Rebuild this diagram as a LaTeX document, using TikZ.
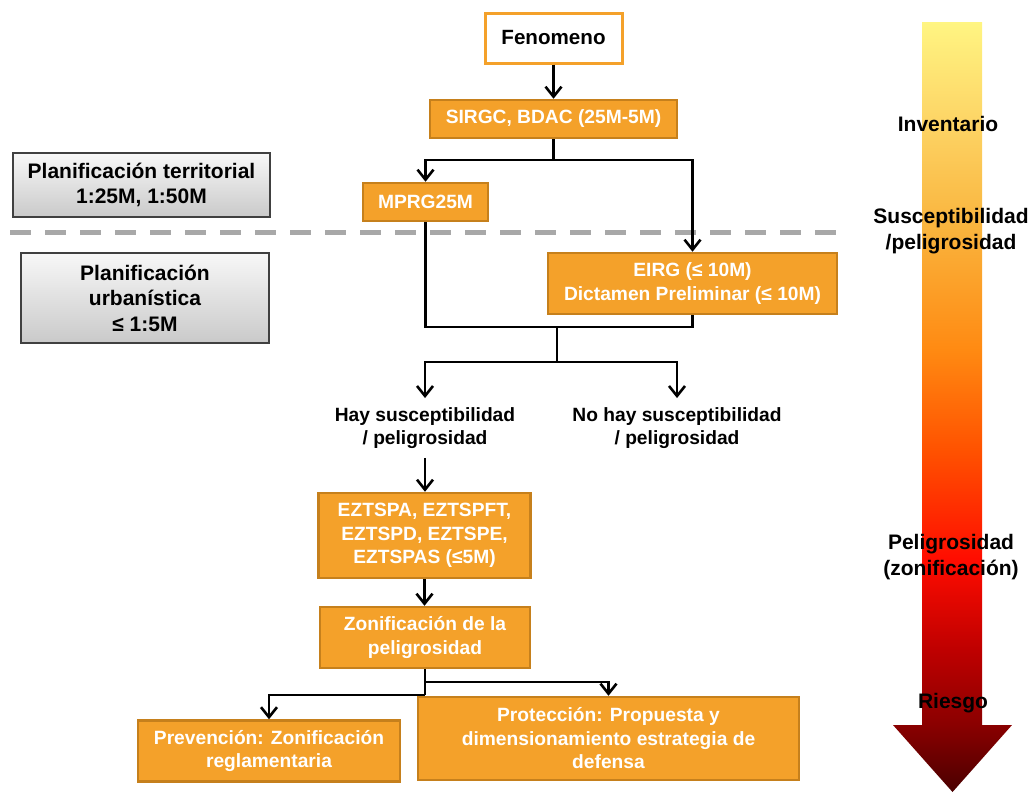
\documentclass[tikz,border=0pt]{standalone}
\usepackage{fontspec}
\setmainfont{Liberation Sans}
\usetikzlibrary{arrows.meta}
\definecolor{boxorange}{HTML}{F4A12A}
\definecolor{boxedge}{HTML}{C6801C}
\definecolor{dashgray}{HTML}{A8A8A8}
\definecolor{rc0}{HTML}{4A0000}
\definecolor{rc1}{HTML}{8A0000}
\definecolor{rc2}{HTML}{BE0000}
\definecolor{rc3}{HTML}{FF0C00}
\definecolor{rc4}{HTML}{FF5200}
\definecolor{rc5}{HTML}{FF8A12}
\definecolor{rc6}{HTML}{F9B33C}
\definecolor{rc7}{HTML}{FDD566}
\definecolor{rc8}{HTML}{FFF582}
\pgfdeclareverticalshading{riskshade}{100bp}{color(0bp)=(rc0); color(25bp)=(rc0); color(29.35bp)=(rc1); color(34.2bp)=(rc2); color(40.05bp)=(rc3); color(47.2bp)=(rc4); color(53.7bp)=(rc5); color(61.5bp)=(rc6); color(68.65bp)=(rc7); color(75bp)=(rc8); color(100bp)=(rc8)}
\newcommand\fntbox{\fontsize{19.2}{23.5}\selectfont\bfseries}
\newcommand\fntfen{\fontsize{20.6}{24}\selectfont\bfseries}
\newcommand\fntside{\fontsize{21}{25.5}\selectfont\bfseries}
\tikzset{
  obox/.style={draw=boxedge, line width=2.5pt, fill=boxorange, text=white, font=\fntbox, align=center, inner sep=0pt},
  gbox/.style={draw=black!75, line width=1.2pt, top color=gray!6, bottom color=gray!42, font=\fntside, align=center, inner sep=0pt},
  lbl/.style={font=\fntbox, align=center, inner sep=9pt},
  side/.style={font=\fntside, align=center, inner sep=0pt},
  plain/.style={line width=2.6pt, line join=miter},
  conn/.style={line width=2.6pt, line join=miter, -{Straight Barb[length=10pt,width=16pt]}}
}
\begin{document}
\begin{tikzpicture}[x=1pt,y=-1pt]
\useasboundingbox (0,0) rectangle (1032,796);
% gradient arrow
\path[shading=riskshade] (922,22) -- (982,22) -- (982,725) -- (1012,725) -- (952.5,792) -- (893,725) -- (922,725) -- cycle;
% dashed separator
\coordinate (d1) at (10,232);
\coordinate (d2) at (838,232);
\draw[dashgray, line width=5pt, dash pattern=on 21pt off 14pt] (d1) -- (d2);
% side labels
\node[side] (inv) at (948,124) {Inventario};
\node[side] (sus) at (951,231) {Susceptibilidad\\/peligrosidad};
\node[side] (pel) at (951,557) {Peligrosidad\\(zonificación)};
\node[side] (ries) at (953,703) {Riesgo};
% gray boxes
\node[gbox, minimum width=257pt, minimum height=64pt] (terr) at (141.5,185) {Planificación territorial\\1:25M, 1:50M};
\node[gbox, minimum width=248pt, minimum height=90pt] (urb) at (145,298) {Planificación\\urbanística\\≤ 1:5M};
% flow boxes
\node[draw=boxorange, line width=3pt, fill=white, font=\fntfen, minimum width=137pt, minimum height=50pt, inner sep=0pt] (fen) at (553.5,38) {\raisebox{-2pt}{Fenomeno}};
\node[obox, minimum width=247pt, minimum height=38pt] (sirgc) at (553.5,119) {\raisebox{-2pt}{SIRGC, BDAC (25M-5M)}};
\node[obox, minimum width=125pt, minimum height=38pt] (mprg) at (425.5,202) {\raisebox{-2pt}{MPRG25M}};
\node[obox, minimum width=289pt, minimum height=61pt] (eirg) at (692.5,283.5) {EIRG (≤ 10M)\\Dictamen Preliminar (≤ 10M)};
\node[lbl] (hay) at (425,428) {Hay susceptibilidad\\/ peligrosidad};
\node[lbl] (nohay) at (677,428) {No hay susceptibilidad\\/ peligrosidad};
\node[obox, minimum width=212pt, minimum height=85pt] (ezt) at (424.5,535.5) {EZTSPA, EZTSPFT,\\EZTSPD, EZTSPE,\\EZTSPAS (≤5M)};
\node[obox, minimum width=210pt, minimum height=61pt] (zon) at (425,637.5) {Zonificación de la\\peligrosidad};
\node[obox, minimum width=262pt, minimum height=61pt] (prev) at (269,751) {Prevención: Zonificación\\reglamentaria};
\node[obox, minimum width=381pt, minimum height=83pt] (prot) at (608.5,738.5) {Protección: Propuesta y\\dimensionamiento estrategia de\\defensa};
% connectors
\coordinate (j1) at (553.5,160);
\coordinate (j2) at (557,327);
\coordinate (j3) at (557,362);
\coordinate (j4) at (425,682);
\coordinate (j5) at (425,695);
\draw[conn] (fen) -- (sirgc);
\draw[plain] (sirgc.south) -- (j1);
\draw[conn] (j1) -| (mprg.north);
\draw[conn] (j1) -| (eirg.north);
\draw[plain] (mprg.south) |- (j2) -| (eirg.south);
\draw[plain] (j2) -- (j3);
\draw[conn] (j3) -| (hay.north);
\draw[conn] (j3) -| (nohay.north);
\draw[conn] (hay.south) -- (hay.south |- ezt.north);
\draw[conn] (ezt.south) -- (ezt.south |- zon.north);
\draw[plain] (zon.south) -- (j5);
\draw[conn] (j4) -| (prot.north);
\draw[conn] (j5) -| (prev.north);
\end{tikzpicture}
\end{document}
